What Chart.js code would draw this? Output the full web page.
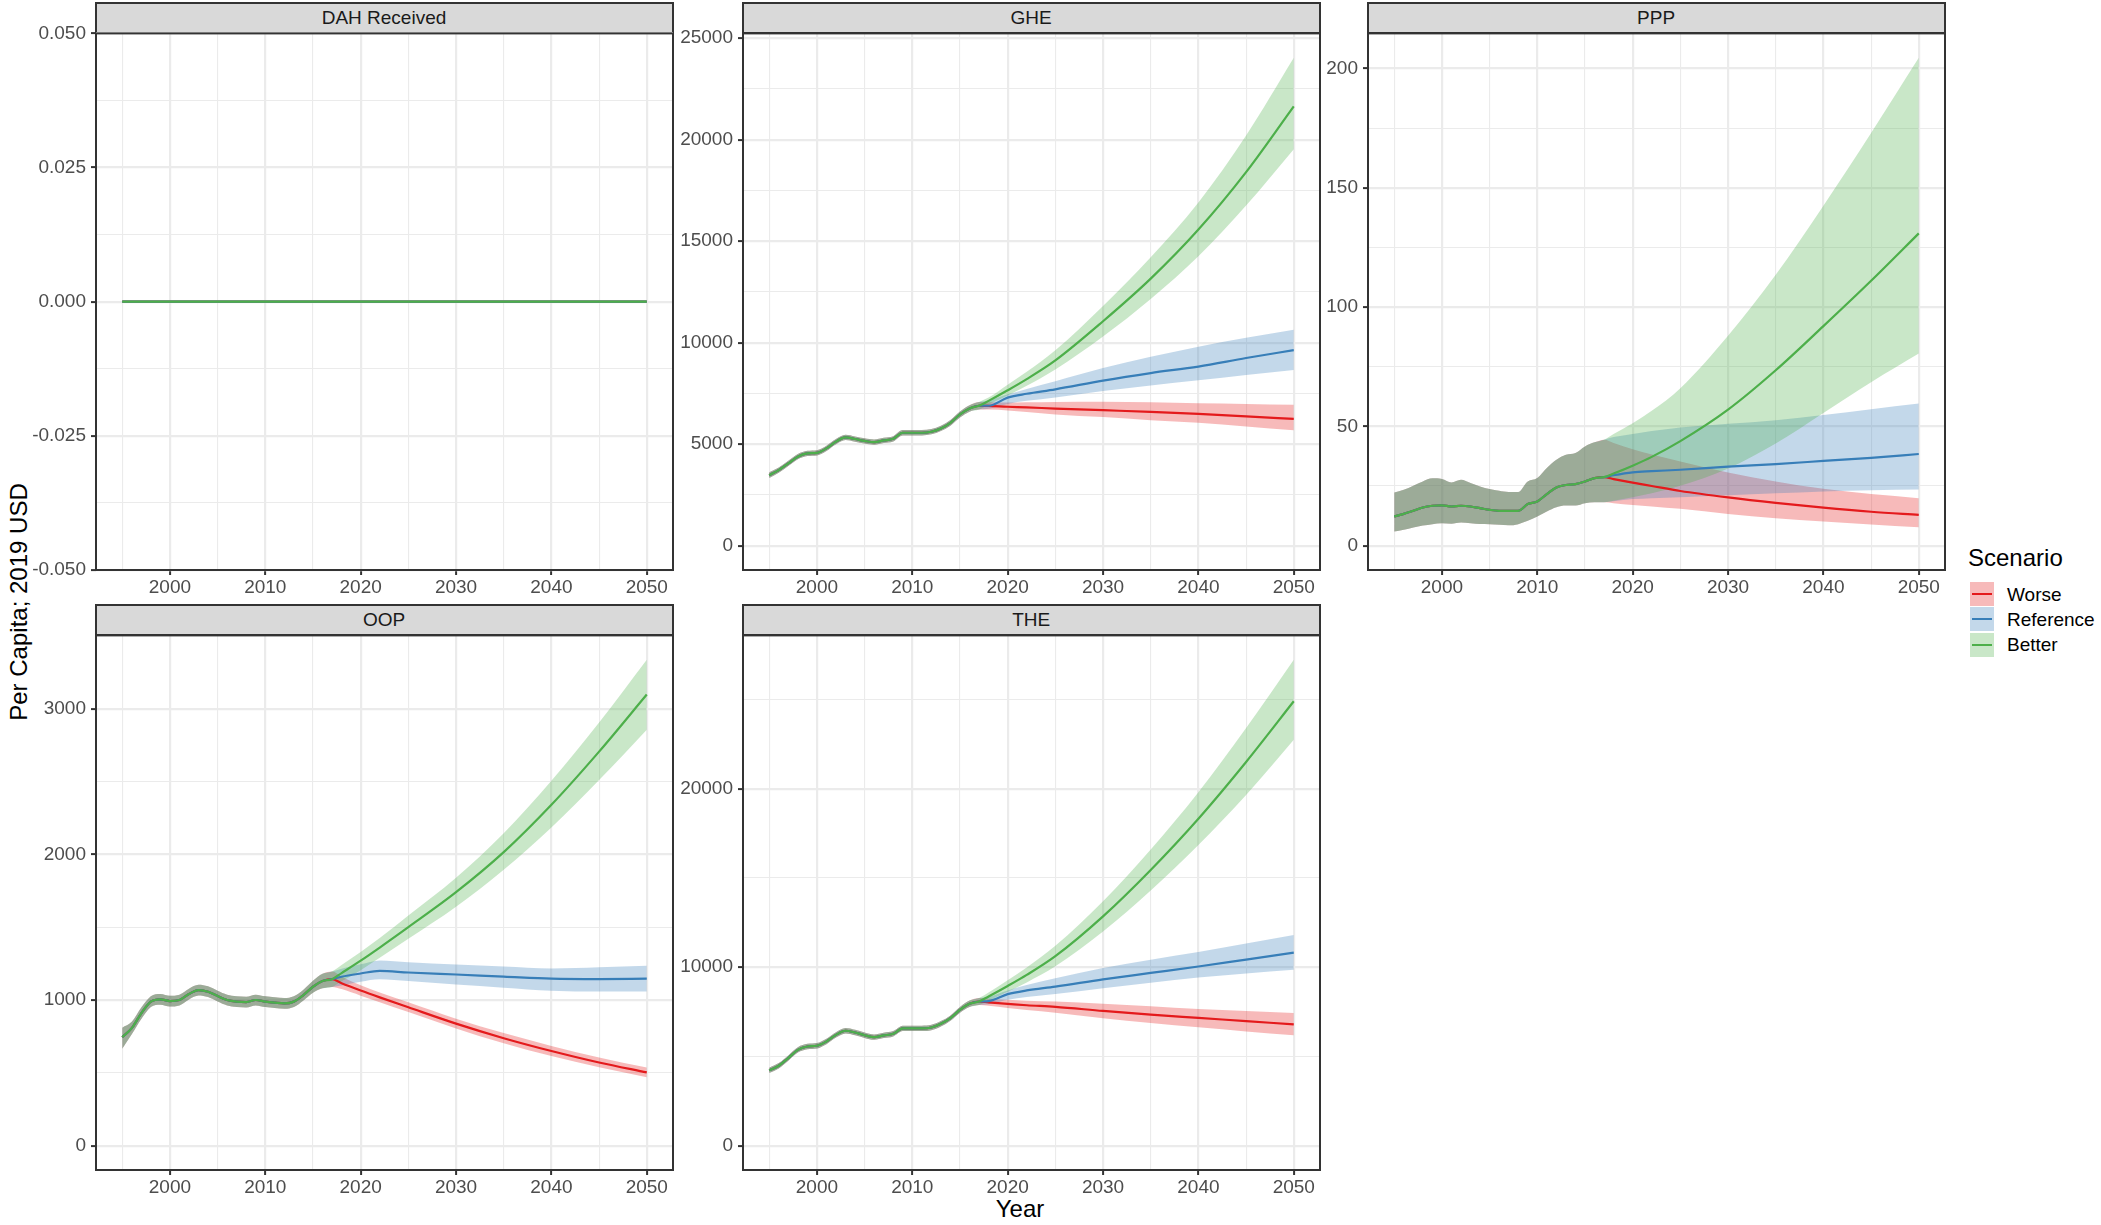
<!DOCTYPE html>
<html>
<head>
<meta charset="utf-8">
<script src="https://cdn.jsdelivr.net/npm/chart.js@4.4.1/dist/chart.umd.min.js"></script>
<style>
  body { margin: 0; background: #fff; width: 2101px; height: 1225px; position: relative; overflow: hidden;
         font-family: "Liberation Sans", Arial, sans-serif; }
  canvas { position: absolute; }
  .strip { position: absolute; box-sizing: border-box; border: 2px solid #333; background: #d9d9d9;
           color: #1a1a1a; font-size: 19px; display: flex; align-items: center; justify-content: center; }
  .title { position: absolute; font-size: 24px; line-height: 24px; color: #000; white-space: nowrap; }
  .key { position: absolute; width: 24px; height: 24px; }
  .key span { position: absolute; left: 2px; right: 2px; top: 11px; height: 2px; }
  .keylabel { position: absolute; font-size: 19px; line-height: 19px; color: #000; }
</style>
</head>
<body>
<div class="title" style="left:-181px; top:590px; width:400px; text-align:center; transform:rotate(-90deg);">Per Capita; 2019 USD</div>
<div class="title" style="left:920px; top:1197px; width:200px; text-align:center;">Year</div>
<div id="legend"></div>
<script>
// ---- data ----
const histYears = [1995, 1996, 1997, 1998, 1999, 2000, 2001, 2002, 2003, 2004, 2005, 2006,
                   2007, 2008, 2009, 2010, 2011, 2012, 2013, 2014, 2015, 2016, 2017];
const fcYears = [2017, 2018, 2020, 2022, 2025, 2030, 2035, 2040, 2045, 2050];

const xMajor = [2000, 2010, 2020, 2030, 2040, 2050];
const xMinor = [1995, 2005, 2015, 2025, 2035, 2045];

const scenarios = ['Worse', 'Reference', 'Better'];
const lineColors = ['#E41A1C', '#377EB8', '#4DAF4A'];
const ribbonColors = ['rgba(228,26,28,0.3)', 'rgba(55,126,184,0.3)', 'rgba(77,175,74,0.3)'];

// DAH Received
const dahYears = [1995, 2017, 2050];
const dahValues = [0, 0, 0];
const dahTicks = [-0.05, -0.025, 0, 0.025, 0.05];
const dahMinor = [-0.0375, -0.0125, 0.0125, 0.0375];

// GHE
const gheHist   = [3470, 3720, 4050, 4380, 4540, 4570, 4790, 5120, 5330, 5250, 5160, 5100, 5180, 5260, 5560, 5560, 5560, 5610, 5770, 6050, 6460, 6760, 6890];
const gheHistLo = [3330, 3590, 3920, 4250, 4410, 4440, 4660, 4990, 5200, 5120, 5030, 4970, 5050, 5130, 5430, 5430, 5430, 5480, 5640, 5910, 6310, 6600, 6700];
const gheHistHi = [3610, 3850, 4180, 4510, 4670, 4700, 4920, 5250, 5460, 5380, 5290, 5230, 5310, 5390, 5690, 5690, 5690, 5740, 5900, 6190, 6610, 6920, 7080];
const gheWorse    = [6890, 6880, 6840, 6810, 6750, 6670, 6590, 6490, 6370, 6240];
const gheWorseLo  = [6700, 6700, 6650, 6580, 6460, 6330, 6180, 6050, 5870, 5680];
const gheWorseHi  = [7080, 7060, 7050, 7060, 7080, 7090, 7060, 7010, 6980, 6940];
const gheRef      = [6890, 6890, 7290, 7480, 7700, 8130, 8500, 8820, 9240, 9630];
const gheRefLo    = [6700, 6740, 6980, 7130, 7300, 7620, 7890, 8140, 8400, 8650];
const gheRefHi    = [7080, 7150, 7450, 7720, 8100, 8750, 9300, 9800, 10240, 10630];
const gheBetter   = [6890, 7130, 7650, 8200, 9120, 11050, 13150, 15570, 18400, 21640];
const gheBetterLo = [6700, 6950, 7400, 7880, 8680, 10300, 12150, 14250, 16750, 19530];
const gheBetterHi = [7080, 7290, 7930, 8560, 9620, 11800, 14200, 16900, 20200, 24030];
const gheTicks = [0, 5000, 10000, 15000, 20000, 25000];
const gheMinor = [2500, 7500, 12500, 17500, 22500];

// PPP
const pppHist   = [12.2, 13.3, 14.6, 16.0, 16.7, 16.9, 16.4, 16.7, 16.4, 15.7, 15.0, 14.6, 14.6, 14.6, 17.4, 18.5, 21.6, 24.4, 25.4, 25.8, 26.9, 28.3, 28.7];
const pppHistLo = [5.9, 6.6, 7.6, 8.4, 9.0, 9.4, 9.2, 9.7, 9.4, 9.1, 9.0, 8.7, 8.5, 9.0, 10.4, 12.2, 14.3, 16.1, 16.8, 16.8, 17.8, 18.2, 18.2];
const pppHistHi = [22.3, 23.4, 25.1, 26.9, 28.2, 27.9, 26.5, 27.6, 26.2, 24.8, 23.7, 23.0, 22.5, 22.5, 26.9, 28.3, 32.5, 36.0, 38.1, 38.8, 41.6, 43.3, 44.4];
const pppWorse    = [28.7, 27.9, 26.4, 25.0, 22.9, 20.2, 17.9, 15.9, 14.2, 12.9];
const pppWorseLo  = [18.2, 17.8, 17.0, 16.4, 15.4, 13.2, 11.5, 10.1, 8.9, 7.7];
const pppWorseHi  = [44.4, 43.0, 40.4, 38.2, 35.3, 30.7, 26.9, 23.8, 21.6, 19.9];
const pppRef      = [28.7, 29.5, 30.7, 31.2, 31.8, 33.1, 34.2, 35.5, 36.8, 38.4];
const pppRefLo    = [18.2, 18.6, 19.5, 19.9, 20.3, 21.1, 21.9, 22.7, 23.2, 23.5];
const pppRefHi    = [44.4, 45.5, 46.8, 48.0, 49.5, 51.1, 52.6, 54.8, 57.2, 59.6];
const pppBetter   = [28.7, 30.2, 33.5, 37.2, 43.8, 57.0, 73.5, 92.0, 111.0, 130.9];
const pppBetterLo = [18.2, 18.8, 20.3, 22.0, 25.1, 32.3, 42.8, 55.6, 68.5, 80.5];
const pppBetterHi = [44.4, 46.8, 51.3, 56.5, 66.0, 88.0, 113.5, 142.5, 173.0, 204.5];
const pppTicks = [0, 50, 100, 150, 200];
const pppMinor = [25, 75, 125, 175];

// OOP
const oopHist   = [745, 807, 909, 989, 1005, 993, 1000, 1041, 1068, 1057, 1027, 1000, 989, 986, 1000, 989, 982, 977, 989, 1034, 1091, 1130, 1143];
const oopHistLo = [665, 765, 870, 952, 968, 956, 963, 1004, 1031, 1020, 990, 963, 952, 949, 963, 952, 945, 940, 952, 997, 1050, 1080, 1090];
const oopHistHi = [810, 850, 948, 1026, 1042, 1030, 1037, 1078, 1105, 1094, 1064, 1037, 1026, 1023, 1037, 1026, 1019, 1014, 1026, 1071, 1132, 1180, 1196];
const oopWorse    = [1143, 1115, 1065, 1018, 950, 838, 738, 650, 571, 503];
const oopWorseLo  = [1090, 1075, 1030, 985, 918, 805, 703, 615, 538, 470];
const oopWorseHi  = [1196, 1160, 1102, 1052, 985, 872, 773, 685, 605, 536];
const oopRef      = [1143, 1160, 1182, 1200, 1189, 1175, 1161, 1147, 1144, 1147];
const oopRefLo    = [1090, 1100, 1125, 1142, 1130, 1106, 1085, 1064, 1058, 1058];
const oopRefHi    = [1196, 1215, 1245, 1272, 1260, 1244, 1230, 1217, 1225, 1236];
const oopBetter   = [1143, 1185, 1270, 1360, 1500, 1740, 2015, 2340, 2705, 3097];
const oopBetterLo = [1090, 1128, 1205, 1290, 1420, 1640, 1895, 2185, 2510, 2856];
const oopBetterHi = [1196, 1240, 1330, 1425, 1580, 1840, 2145, 2505, 2905, 3336];
const oopTicks = [0, 1000, 2000, 3000];
const oopMinor = [500, 1500, 2500];

// THE
const theHist   = [4220, 4480, 4910, 5370, 5560, 5600, 5840, 6210, 6440, 6340, 6190, 6080, 6180, 6270, 6570, 6570, 6570, 6620, 6830, 7150, 7610, 7950, 8080];
const theHistLo = [4070, 4330, 4760, 5220, 5410, 5450, 5690, 6060, 6290, 6190, 6040, 5930, 6030, 6120, 6420, 6420, 6420, 6470, 6680, 7000, 7450, 7770, 7880];
const theHistHi = [4370, 4630, 5060, 5520, 5710, 5750, 5990, 6360, 6590, 6490, 6340, 6230, 6330, 6420, 6720, 6720, 6720, 6770, 6980, 7300, 7770, 8130, 8280];
const theWorse    = [8080, 8030, 7950, 7870, 7780, 7550, 7340, 7160, 6980, 6800];
const theWorseLo  = [7880, 7840, 7720, 7600, 7450, 7140, 6870, 6630, 6400, 6190];
const theWorseHi  = [8280, 8230, 8180, 8120, 8080, 7960, 7810, 7660, 7550, 7440];
const theRef      = [8080, 8100, 8490, 8700, 8910, 9320, 9680, 10040, 10430, 10820];
const theRefLo    = [7880, 7920, 8180, 8330, 8500, 8820, 9130, 9420, 9650, 9860];
const theRefHi    = [8280, 8350, 8700, 9000, 9380, 9950, 10420, 10850, 11330, 11810];
const theBetter   = [8080, 8360, 8950, 9570, 10620, 12850, 15450, 18320, 21500, 24900];
const theBetterLo = [7880, 8130, 8630, 9150, 10050, 12000, 14300, 16850, 19650, 22740];
const theBetterHi = [8280, 8590, 9270, 9990, 11200, 13700, 16600, 19800, 23400, 27230];
const theTicks = [0, 10000, 20000];
const theMinor = [5000, 15000, 25000];

// ---- helpers ----
function points(xs, ys) {
    return xs.map((x, i) => ({ x: x, y: ys[i] }));
}

function series(hist, fc) {
    return points(histYears.concat(fcYears.slice(1)), hist.concat(fc.slice(1)));
}

function scenarioSet(h, hLo, hHi, fc) {
    // fc = [[mean, lo, hi] for Worse, Reference, Better]
    return fc.map(f => ({
        mean: series(h, f[0]),
        lo: series(hLo, f[1]),
        hi: series(hHi, f[2])
    }));
}

const dahSeries = scenarios.map(() => ({
    mean: points(dahYears, dahValues),
    lo: points(dahYears, dahValues),
    hi: points(dahYears, dahValues)
}));

const panels = [
    { title: 'DAH Received', left: 95.5, top: 33.3, height: 537, yMajor: dahTicks, yMinor: dahMinor,
      yRange: [-0.05, 0.05], fmt: v => v.toFixed(3), data: dahSeries },
    { title: 'GHE', left: 742.7, top: 33.3, height: 537, yMajor: gheTicks, yMinor: gheMinor,
      fmt: v => String(v),
      data: scenarioSet(gheHist, gheHistLo, gheHistHi, [[gheWorse, gheWorseLo, gheWorseHi],
            [gheRef, gheRefLo, gheRefHi], [gheBetter, gheBetterLo, gheBetterHi]]) },
    { title: 'PPP', left: 1367.6, top: 33.3, height: 537, yMajor: pppTicks, yMinor: pppMinor,
      fmt: v => String(v),
      data: scenarioSet(pppHist, pppHistLo, pppHistHi, [[pppWorse, pppWorseLo, pppWorseHi],
            [pppRef, pppRefLo, pppRefHi], [pppBetter, pppBetterLo, pppBetterHi]]) },
    { title: 'OOP', left: 95.5, top: 635, height: 535, yMajor: oopTicks, yMinor: oopMinor,
      fmt: v => String(v),
      data: scenarioSet(oopHist, oopHistLo, oopHistHi, [[oopWorse, oopWorseLo, oopWorseHi],
            [oopRef, oopRefLo, oopRefHi], [oopBetter, oopBetterLo, oopBetterHi]]) },
    { title: 'THE', left: 742.7, top: 635, height: 535, yMajor: theTicks, yMinor: theMinor,
      fmt: v => String(v),
      data: scenarioSet(theHist, theHistLo, theHistHi, [[theWorse, theWorseLo, theWorseHi],
            [theRef, theRefLo, theRefHi], [theBetter, theBetterLo, theBetterHi]]) }
];

const PLOT_W = 577;
const Y_AXIS_W = 80, X_AXIS_H = 44, PAD_TOP = 16, PAD_RIGHT = 34;
const FONT = '"Liberation Sans", Arial, sans-serif';

Chart.defaults.font.family = FONT;

// ggplot-style panel border drawn over everything
const panelBorder = {
    id: 'panelBorder',
    afterDraw(chart) {
        const a = chart.chartArea;
        const c = chart.ctx;
        c.save();
        c.strokeStyle = '#333333';
        c.lineWidth = 2;
        c.strokeRect(a.left, a.top, a.right - a.left, a.bottom - a.top);
        c.restore();
    }
};

function buildDatasets(data) {
    const ds = [];
    data.forEach((s, i) => {
        ds.push({ label: scenarios[i] + ' upper', data: s.hi, fill: '+1', backgroundColor: ribbonColors[i],
                  borderWidth: 0, pointRadius: 0, cubicInterpolationMode: 'monotone', order: 30 - i * 10 });
        ds.push({ label: scenarios[i] + ' lower', data: s.lo, fill: false, borderWidth: 0,
                  pointRadius: 0, cubicInterpolationMode: 'monotone', order: 30 - i * 10 });
    });
    data.forEach((s, i) => {
        ds.push({ label: scenarios[i], data: s.mean, fill: false, borderColor: lineColors[i], borderWidth: 2.2,
                  pointRadius: 0, cubicInterpolationMode: 'monotone', order: 3 - i });
    });
    return ds;
}

function yLimits(p) {
    if (p.yRange) return p.yRange;
    let top = 0;
    p.data.forEach(s => s.hi.forEach(pt => { top = Math.max(top, pt.y); }));
    return [-0.05 * top, 1.05 * top];
}

function drawPanel(p) {
    const strip = document.createElement('div');
    strip.className = 'strip';
    strip.textContent = p.title;
    strip.style.left = (p.left - 1) + 'px';
    strip.style.width = (PLOT_W + 2) + 'px';
    strip.style.top = (p.top - 31) + 'px';
    strip.style.height = '32px';
    document.body.appendChild(strip);

    const canvas = document.createElement('canvas');
    canvas.width = Y_AXIS_W + PLOT_W + PAD_RIGHT;
    canvas.height = PAD_TOP + p.height + X_AXIS_H;
    document.body.appendChild(canvas);

    const lim = yLimits(p);
    const yAll = p.yMajor.concat(p.yMinor).sort((a, b) => a - b);
    const xAll = xMajor.concat(xMinor).sort((a, b) => a - b);

    const chart = new Chart(canvas.getContext('2d'), {
        type: 'line',
        data: { datasets: buildDatasets(p.data) },
        options: {
            responsive: false,
            animation: false,
            devicePixelRatio: 1,
            layout: { padding: { top: PAD_TOP, right: PAD_RIGHT, left: 0, bottom: 0 } },
            plugins: { legend: { display: false }, tooltip: { enabled: false } },
            scales: {
                x: {
                    type: 'linear',
                    min: 1992.25,
                    max: 2052.75,
                    border: { display: false },
                    afterBuildTicks: axis => { axis.ticks = xAll.map(v => ({ value: v })); },
                    afterFit: axis => { axis.height = X_AXIS_H; },
                    grid: {
                        color: '#EBEBEB',
                        lineWidth: ctx => xMajor.includes(ctx.tick.value) ? 2.2 : 1.1,
                        tickColor: ctx => xMajor.includes(ctx.tick.value) ? '#333333' : 'rgba(0,0,0,0)',
                        tickLength: 5,
                        tickWidth: 2
                    },
                    ticks: {
                        autoSkip: false,
                        maxRotation: 0,
                        padding: 1,
                        color: '#4D4D4D',
                        font: { size: 19, family: FONT },
                        callback: v => xMajor.includes(v) ? String(v) : ''
                    }
                },
                y: {
                    type: 'linear',
                    min: lim[0],
                    max: lim[1],
                    border: { display: false },
                    afterBuildTicks: axis => { axis.ticks = yAll.map(v => ({ value: v })); },
                    afterFit: axis => { axis.width = Y_AXIS_W; },
                    grid: {
                        color: '#EBEBEB',
                        lineWidth: ctx => p.yMajor.includes(ctx.tick.value) ? 2.2 : 1.1,
                        tickColor: ctx => p.yMajor.includes(ctx.tick.value) ? '#333333' : 'rgba(0,0,0,0)',
                        tickLength: 5,
                        tickWidth: 2
                    },
                    ticks: {
                        autoSkip: false,
                        padding: 5,
                        color: '#4D4D4D',
                        font: { size: 19, family: FONT },
                        callback: v => p.yMajor.includes(v) ? p.fmt(v) : ''
                    }
                }
            }
        },
        plugins: [panelBorder]
    });

    // align chart area with the panel position
    canvas.style.left = (p.left - chart.chartArea.left) + 'px';
    canvas.style.top = (p.top - chart.chartArea.top) + 'px';
}

panels.forEach(drawPanel);

// legend
function drawLegend() {
    const legend = document.getElementById('legend');
    const title = document.createElement('div');
    title.className = 'title';
    title.style.left = '1968px';
    title.style.top = '546px';
    title.textContent = 'Scenario';
    legend.appendChild(title);

    const keyTops = [582, 607.3, 632.7];
    scenarios.forEach((name, i) => {
        const key = document.createElement('div');
        key.className = 'key';
        key.style.left = '1970px';
        key.style.top = keyTops[i] + 'px';
        key.style.background = ribbonColors[i];
        const line = document.createElement('span');
        line.style.background = lineColors[i];
        key.appendChild(line);
        legend.appendChild(key);

        const label = document.createElement('div');
        label.className = 'keylabel';
        label.style.left = '2007px';
        label.style.top = (keyTops[i] + 2.5) + 'px';
        label.textContent = name;
        legend.appendChild(label);
    });
}

drawLegend();
</script>
</body>
</html>
